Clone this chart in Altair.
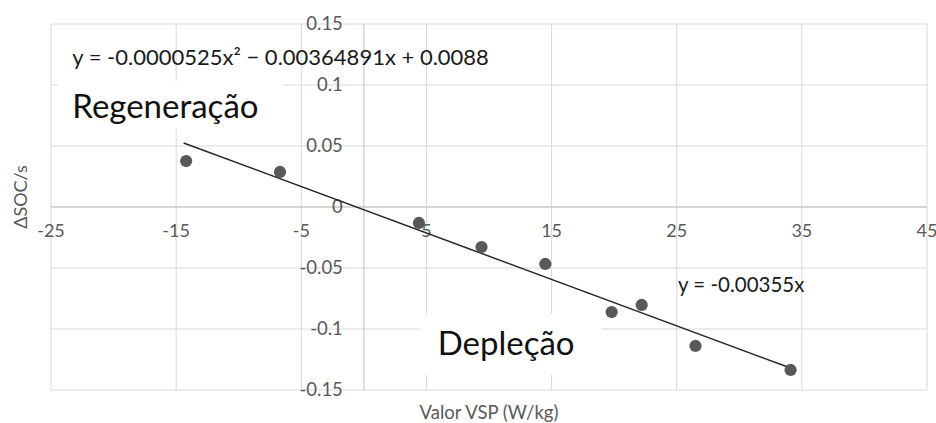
import altair as alt
import pandas as pd

# Measured points: VSP (W/kg) vs change of state of charge per second
vsp = [-14.2, -6.7, 4.4, 9.4, 14.5, 19.8, 22.2, 26.5, 34.1]
dsoc = [0.0377, 0.0287, -0.0131, -0.0328, -0.0467, -0.0861, -0.0803, -0.1139, -0.1336]

# Linear trend line end points
trend_vsp = [-14.4, 34.1]
trend_dsoc = [0.0525, -0.132]

# Axis ticks
x_ticks = [-25, -15, -5, 5, 15, 25, 35, 45]
x_tick_labels = ["-25", "-15", "-5", "5", "15", "25", "35", "45"]
y_ticks = [0.15, 0.1, 0.05, 0, -0.05, -0.1, -0.15]
y_tick_labels = ["0.15", "0.1", "0.05", "0", "-0.05", "-0.1", "-0.15"]

# Titles and annotations
x_title = "Valor VSP (W/kg)"
y_title = "ΔSOC/s"
eq_poly = "y = -0.0000525x\u00b2 \u2212 0.00364891x  + 0.0088"
eq_lin = "y = -0.00355x"
label_regen = "Regeneração"
label_depl = "Depleção"

FONT = "Lato"
GRID = "#d9d9d9"
AXIS_LINE = "#bfbfbf"
LABEL = "#595959"

x_scale = alt.Scale(domain=[-25, 45], nice=False, zero=False)
y_scale = alt.Scale(domain=[-0.15, 0.15], nice=False, zero=False)

pts = pd.DataFrame({"vsp": vsp, "dsoc": dsoc})
trend = pd.DataFrame({"vsp": trend_vsp, "dsoc": trend_dsoc})
xt = pd.DataFrame({"vsp": x_ticks, "label": x_tick_labels})
yt = pd.DataFrame({"dsoc": y_ticks, "label": y_tick_labels})
one = pd.DataFrame({"k": [0]})  # single row for one-off marks

# Grid lines
x_grid = alt.Chart(xt).mark_rule(color=GRID, strokeWidth=1).encode(
    x=alt.X("vsp:Q", scale=x_scale, axis=None))
y_grid = alt.Chart(yt).mark_rule(color=GRID, strokeWidth=1).encode(
    y=alt.Y("dsoc:Q", scale=y_scale, axis=None))

# Axis lines crossing at the origin
vline = alt.Chart(one).mark_rule(color=AXIS_LINE, strokeWidth=1).encode(
    x=alt.X(datum=0, axis=None))
hline = alt.Chart(one).mark_rule(color=AXIS_LINE, strokeWidth=1).encode(
    y=alt.Y(datum=0, axis=None))

# Tick labels placed along the crossing axes
x_labels = alt.Chart(xt).mark_text(
    font=FONT, fontSize=18, fontWeight="normal", color=LABEL, dy=25,
    align="center", baseline="middle"
).encode(x=alt.X("vsp:Q", axis=None), y=alt.Y(datum=0, axis=None), text="label:N")

y_labels = alt.Chart(yt).mark_text(
    font=FONT, fontSize=18.5, fontWeight="normal", color=LABEL, dx=-21,
    align="right", baseline="middle"
).encode(x=alt.X(datum=0, axis=None), y=alt.Y("dsoc:Q", axis=None), text="label:N")

# Axis titles
x_title_layer = alt.Chart(one).mark_text(
    text=x_title, font=FONT, fontSize=18.5, fontWeight="normal", color=LABEL,
    dy=29, align="center", baseline="alphabetic"
).encode(x=alt.X(datum=10, axis=None), y=alt.Y(datum=-0.15, axis=None))

y_title_layer = alt.Chart(one).mark_text(
    text=y_title, font=FONT, fontSize=18, fontWeight="normal", color=LABEL,
    angle=270, dx=10, dy=-24, align="center", baseline="alphabetic"
).encode(x=alt.X(datum=-25, axis=None), y=alt.Y(datum=0, axis=None))

# White boxes behind the region labels
boxes = pd.DataFrame({
    "x": [-24.45, 4.5], "x2": [-6.5, 19.0],
    "y": [0.1035, -0.088], "y2": [0.064, -0.1375],
})
box_layer = alt.Chart(boxes).mark_rect(color="white").encode(
    x=alt.X("x:Q", axis=None), x2="x2:Q", y=alt.Y("y:Q", axis=None), y2="y2:Q")

trend_line = alt.Chart(trend).mark_line(color="#262626", strokeWidth=1.5).encode(
    x=alt.X("vsp:Q", axis=None), y=alt.Y("dsoc:Q", axis=None))

points = alt.Chart(pts).mark_circle(size=150, color="#595959", opacity=1).encode(
    x=alt.X("vsp:Q", axis=None), y=alt.Y("dsoc:Q", axis=None))


def note(text, x, y, size, color="#1a1a1a"):
    df = pd.DataFrame({"x": [x], "y": [y], "t": [text]})
    return alt.Chart(df).mark_text(
        font=FONT, fontSize=size, fontWeight="normal", color=color,
        align="left", baseline="alphabetic"
    ).encode(x=alt.X("x:Q", axis=None), y=alt.Y("y:Q", axis=None), text="t:N")


notes = [
    note(eq_poly, -23.3, 0.1164, 22),
    note(label_regen, -23.3, 0.073, 33, "#111111"),
    note(label_depl, 5.9, -0.1213, 33, "#111111"),
    note(eq_lin, 25.1, -0.0697, 20.5),
]

chart = alt.layer(
    x_grid, y_grid, vline, hline, box_layer, x_labels, y_labels,
    x_title_layer, y_title_layer, trend_line, points, *notes
).properties(
    width=876, height=366,
    padding={"left": 51, "top": 24, "right": 9, "bottom": 33},
    autosize=alt.AutoSizeParams(type="none"),
    background="white",
).configure_view(stroke=None)

chart.save("out.html", embed_options={"renderer": "svg", "actions": False})
